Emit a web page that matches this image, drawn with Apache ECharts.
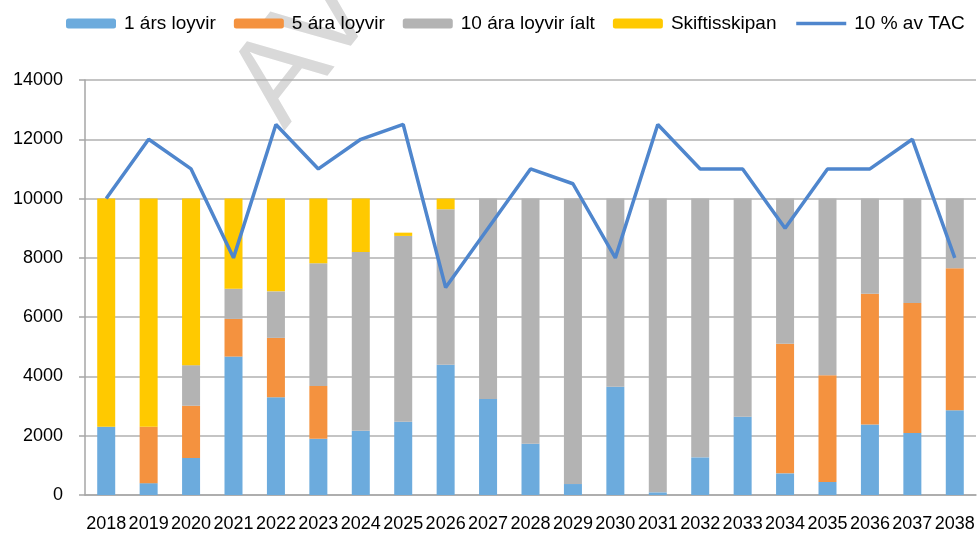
<!DOCTYPE html>
<html>
<head>
<meta charset="utf-8">
<script src="https://cdn.jsdelivr.net/npm/echarts@6/dist/echarts.min.js"></script>
<style>
  html, body { margin: 0; padding: 0; background: #fff; }
  #chart { width: 979px; height: 534px; }
</style>
</head>
<body>
<div id="chart"></div>
<script>
// ár
const years = ["2018", "2019", "2020", "2021", "2022", "2023", "2024", "2025", "2026", "2027", "2028",
  "2029", "2030", "2031", "2032", "2033", "2034", "2035", "2036", "2037", "2038"];
// stablar (stakkaðir)
const eittAr = [2300, 400, 1250, 4670, 3300, 1900, 2170, 2470, 4390, 3240, 1730, 370, 3650, 90, 1270, 2640, 730, 440, 2380, 2090, 2860];
const fimmAr = [0, 1900, 1760, 1270, 2000, 1780, 0, 0, 0, 0, 0, 0, 0, 0, 0, 0, 4370, 3600, 4410, 4390, 4790];
const tiggjuAr = [0, 0, 1370, 1020, 1570, 4140, 6030, 6270, 5250, 6760, 8270, 9630, 6350, 9910, 8730, 7360, 4900, 5960, 3210, 3520, 2350];
const skiftis = [7700, 7700, 5620, 3040, 3130, 2180, 1800, 110, 360, 0, 0, 0, 0, 0, 0, 0, 0, 0, 0, 0, 0];
// linja
const tac10 = [10000, 12000, 11000, 8000, 12500, 11000, 12000, 12500, 7000, 9000, 11000, 10500, 8000, 12500, 11000, 11000, 9000, 11000, 11000, 12000, 8000];

const font = "Liberation Sans";
const chart = echarts.init(document.getElementById("chart"));

const barSeries = (name, data, color) => ({
  name: name,
  type: "bar",
  stack: "total",
  barWidth: 18,
  data: data,
  itemStyle: { color: color },
});

const option = {
  animation: false,
  textStyle: { fontFamily: font },
  // vatnsmerki
  graphic: [
    {
      type: "text",
      x: 306,
      y: 148,
      rotation: 52 * Math.PI / 180,
      z: -10,
      style: {
        text: "AV",
        font: "123px " + font,
        fill: "#d9d9d9",
        verticalAlign: "bottom",
      },
    },
  ],
  legend: {
    top: 9,
    left: 61,
    itemWidth: 50,
    itemHeight: 10,
    itemGap: 18,
    textStyle: { fontSize: 19, color: "#000", fontFamily: font, padding: [0, 0, 0, 3] },
    data: [
      "1 árs loyvir",
      "5 ára loyvir",
      "10 ára loyvir íalt",
      "Skiftisskipan",
      { name: "10 % av TAC", itemStyle: { opacity: 0 }, lineStyle: { width: 3.5, color: "#4f86cd" } },
    ],
  },
  grid: { left: 85, right: 3, top: 80, bottom: 39 },
  xAxis: {
    type: "category",
    data: years,
    axisLine: { lineStyle: { color: "#a6a6a6", width: 1.5 } },
    axisTick: { interval: 0, length: 6, lineStyle: { color: "#a6a6a6", width: 1.5 } },
    axisLabel: { interval: 0, margin: 20, fontSize: 18, color: "#000", fontFamily: font },
  },
  yAxis: {
    type: "value",
    min: 0,
    max: 14000,
    interval: 2000,
    axisLine: { show: true, lineStyle: { color: "#a6a6a6", width: 1.5 } },
    axisTick: { show: true, length: 6, lineStyle: { color: "#a6a6a6", width: 1.5 } },
    axisLabel: { margin: 22, fontSize: 18, color: "#000", fontFamily: font, formatter: (v) => String(v) },
    splitLine: { lineStyle: { color: "#b0b0b0", width: 1.5 } },
  },
  series: [
    barSeries("1 árs loyvir", eittAr, "#6cabdd"),
    barSeries("5 ára loyvir", fimmAr, "#f4923f"),
    barSeries("10 ára loyvir íalt", tiggjuAr, "#b3b3b3"),
    barSeries("Skiftisskipan", skiftis, "#ffc900"),
    {
      name: "10 % av TAC",
      type: "line",
      data: tac10,
      symbol: "none",
      z: 5,
      lineStyle: { color: "#4f86cd", width: 3.5 },
      itemStyle: { color: "#4f86cd" },
    },
  ],
};

chart.setOption(option);
</script>
</body>
</html>
